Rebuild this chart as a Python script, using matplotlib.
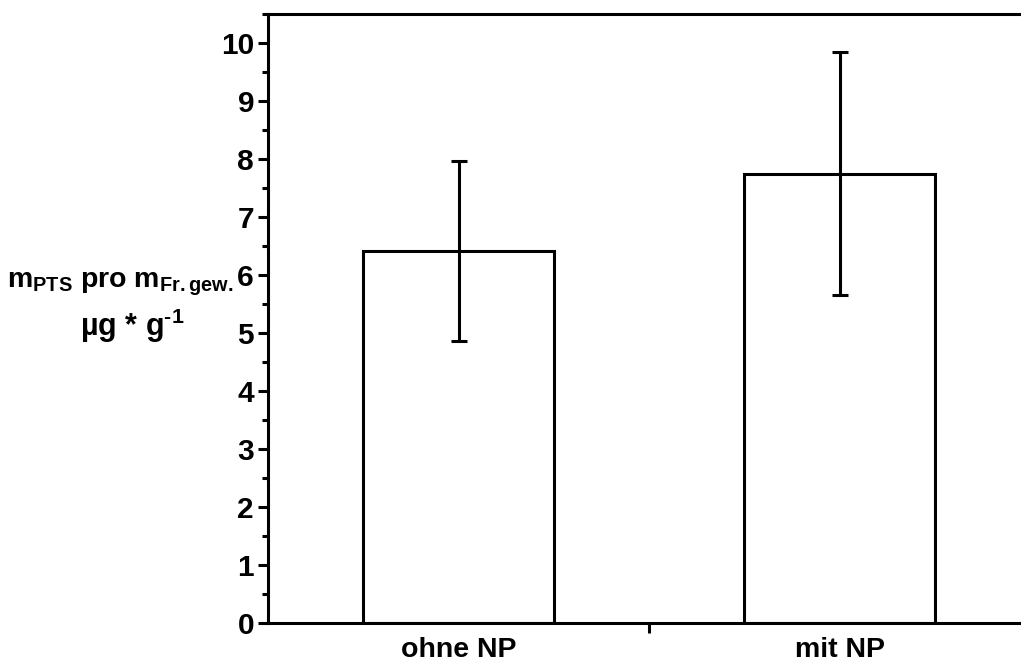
import matplotlib.pyplot as plt
from matplotlib.ticker import MultipleLocator

plt.rcParams['font.family'] = ['Liberation Sans', 'DejaVu Sans']
plt.rcParams['font.weight'] = 'bold'
plt.rcParams['mathtext.fontset'] = 'custom'
plt.rcParams['mathtext.rm'] = 'Liberation Sans:bold'
plt.rcParams['mathtext.bf'] = 'Liberation Sans:bold'
plt.rcParams['mathtext.it'] = 'Liberation Sans:bold'

categories = ["ohne NP", "mit NP"]
means = [6.41, 7.75]
errors = [1.55, 2.09]

fig = plt.figure(figsize=(10.21, 6.66), dpi=100)
# axes runs off the right edge, like in the original export
ax = fig.add_axes([268 / 1021, 1 - 623 / 666, (1030 - 268) / 1021, (623 - 14) / 666])

pos = [1, 2]
ax.bar(pos, means, width=0.5, color="white", edgecolor="black", linewidth=2.2)
ax.errorbar(pos, means, yerr=errors, fmt="none", ecolor="black",
            elinewidth=2.2, capsize=5.5, capthick=2.2)

ax.set_xlim(0.5, 2.5)
ax.set_ylim(0, 10.5)
ax.yaxis.set_major_locator(MultipleLocator(1))
ax.yaxis.set_minor_locator(MultipleLocator(0.5))
ax.set_xticks([1.5])
ax.set_xticklabels([""])
for x, lab in zip(pos, categories):
    ax.text(x, -0.59, lab, ha="center", va="baseline", fontsize=20.5,
            fontweight="bold")

ax.tick_params(axis="y", which="major", direction="out", length=7, width=2.2,
               labelsize=21.5, pad=3)
ax.tick_params(axis="y", which="minor", direction="out", length=4.5, width=2.2)
ax.tick_params(axis="x", which="major", direction="out", length=7, width=2.2)
for lab in ax.get_yticklabels():
    lab.set_fontweight("bold")

for s in ["left", "top", "bottom", "right"]:
    ax.spines[s].set_linewidth(2.2)

fig.text(120 / 1021, 1 - 298 / 666, r"m$_{\mathrm{PTS}}$ pro m$_{\mathrm{Fr.gew.}}$",
         ha="center", va="bottom", fontsize=20.5, fontweight="bold")
fig.text(132 / 1021, 1 - 307 / 666, "µg * g$^{\u2010\\mathrm{1}}$",
         ha="center", va="top", fontsize=22, fontweight="bold")

fig.savefig("out.png", dpi=100)
